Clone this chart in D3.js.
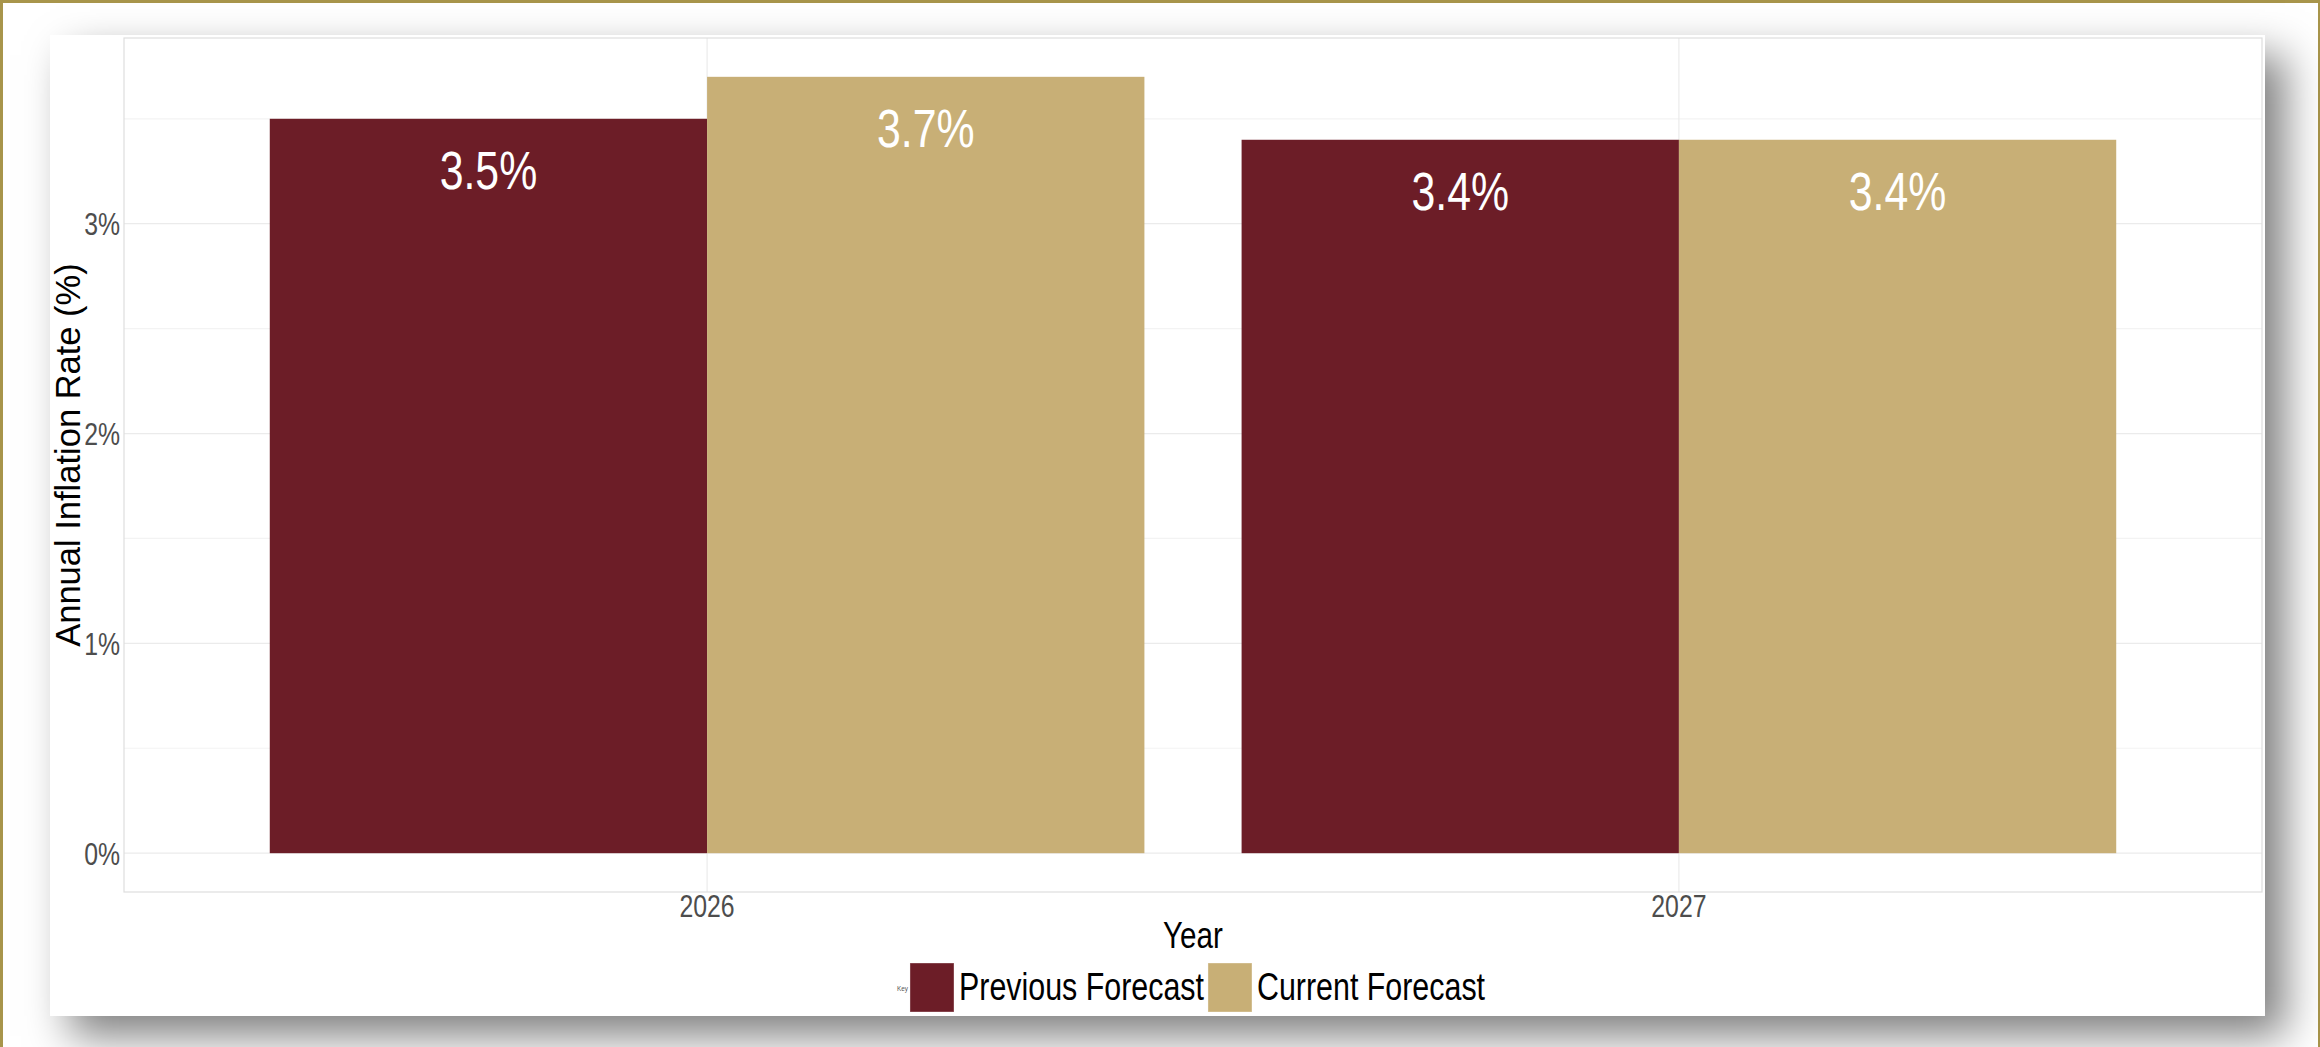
<!DOCTYPE html>
<html>
<head>
<meta charset="utf-8">
<script src="https://cdn.jsdelivr.net/npm/d3@7"></script>
<style>
  html, body { margin: 0; padding: 0; background: #ffffff; }
  body { width: 2320px; height: 1047px; overflow: hidden; position: relative; }
  #frame {
    position: absolute; left: 0; top: 0; width: 2320px; height: 1100px;
    box-sizing: border-box; border-style: solid; border-color: #a8954b;
    border-width: 3px 2px 0 3px;
  }
  #card {
    position: absolute; left: 50px; top: 35px; width: 2215px; height: 981px;
    background: #ffffff; box-shadow: 20px 20px 40px rgba(0,0,0,0.5);
  }
  #chart { position: absolute; left: 0; top: 0; }
  text { font-family: "Liberation Sans", Arial, sans-serif; }
</style>
</head>
<body>
<div id="frame"></div>
<div id="card"></div>
<svg id="chart" width="2320" height="1047"></svg>
<script>
// Annual inflation forecasts by year
const years = ["2026", "2027"];
const seriesNames = ["Previous Forecast", "Current Forecast"];
const previousForecast = [3.5, 3.4];
const currentForecast = [3.7, 3.4];
const seriesColors = ["#6c1d27", "#c8af76"];
const yMajorTicks = [0, 1, 2, 3];
const yMinorTicks = [0.5, 1.5, 2.5, 3.5];
const xTitle = "Year";
const yTitle = "Annual Inflation Rate (%)";
const legendTitle = "Key";

const rows = years.map((y, i) => ({
  year: y,
  values: [previousForecast[i], currentForecast[i]]
}));

const panel = { left: 124, right: 2262, top: 38, bottom: 892 };
const squeeze = 0.8; // glyph width factor used for horizontal labels

const svg = d3.select("#chart");

// scales (5% expansion on the value axis, 0.6-unit expansion on the discrete axis)
const maxVal = d3.max(rows, r => d3.max(r.values));
const pad = maxVal * 0.05;
const y = d3.scaleLinear().domain([-pad, maxVal + pad]).range([panel.bottom, panel.top]);
const x = d3.scaleBand().domain(years).range([panel.left, panel.right])
  .paddingInner(0.1).paddingOuter(0.15);
const xSub = d3.scaleBand().domain(seriesNames).range([0, x.bandwidth()]).padding(0);
const color = d3.scaleOrdinal().domain(seriesNames).range(seriesColors);

// grid
const grid = svg.append("g");
grid.selectAll("line.minor").data(yMinorTicks).join("line")
  .attr("x1", panel.left).attr("x2", panel.right)
  .attr("y1", d => y(d)).attr("y2", d => y(d))
  .attr("stroke", "#f3f3f3").attr("stroke-width", 1.2);
grid.selectAll("line.major").data(yMajorTicks).join("line")
  .attr("x1", panel.left).attr("x2", panel.right)
  .attr("y1", d => y(d)).attr("y2", d => y(d))
  .attr("stroke", "#ebebeb").attr("stroke-width", 1.2);
grid.selectAll("line.vmajor").data(years).join("line")
  .attr("x1", d => x(d) + x.bandwidth() / 2).attr("x2", d => x(d) + x.bandwidth() / 2)
  .attr("y1", panel.top).attr("y2", panel.bottom)
  .attr("stroke", "#ebebeb").attr("stroke-width", 1.2);

// bars
const groups = svg.append("g").selectAll("g").data(rows).join("g")
  .attr("transform", d => `translate(${x(d.year)},0)`);
groups.selectAll("rect").data(d => d.values.map((v, k) => ({ name: seriesNames[k], v })))
  .join("rect")
  .attr("x", d => xSub(d.name))
  .attr("width", xSub.bandwidth())
  .attr("y", d => y(d.v))
  .attr("height", d => y(0) - y(d.v))
  .attr("fill", d => color(d.name));

// value labels inside bars
groups.selectAll("text").data(d => d.values.map((v, k) => ({ name: seriesNames[k], v })))
  .join("text")
  .attr("transform", d => `translate(${xSub(d.name) + xSub.bandwidth() / 2},${y(d.v) + 70}) scale(${squeeze},1)`)
  .attr("text-anchor", "middle")
  .attr("font-size", 53.5)
  .attr("fill", "#ffffff")
  .text(d => d.v.toFixed(1) + "%");

// panel border
svg.append("rect")
  .attr("x", panel.left).attr("y", panel.top)
  .attr("width", panel.right - panel.left).attr("height", panel.bottom - panel.top)
  .attr("fill", "none").attr("stroke", "#dedede").attr("stroke-width", 1.2);

// y axis tick labels
const yAxis = d3.axisLeft(y).tickValues(yMajorTicks).tickSize(0).tickFormat(d => d + "%");
const gy = svg.append("g").attr("transform", `translate(${panel.left - 4},0)`).call(yAxis);
gy.select(".domain").remove();
gy.selectAll(".tick text")
  .attr("x", 0).attr("dy", null)
  .attr("transform", `translate(0,11) scale(${squeeze},1)`)
  .attr("font-size", 31).attr("fill", "#4d4d4d")
  .attr("font-family", "Liberation Sans, Arial, sans-serif");

// x axis tick labels
const xAxis = d3.axisBottom(x).tickSize(0);
const gx = svg.append("g").attr("transform", `translate(0,${panel.bottom})`).call(xAxis);
gx.select(".domain").remove();
gx.selectAll(".tick text")
  .attr("y", 0).attr("dy", null)
  .attr("transform", `translate(0,25) scale(${squeeze},1)`)
  .attr("font-size", 31).attr("fill", "#4d4d4d")
  .attr("font-family", "Liberation Sans, Arial, sans-serif");

// axis titles
const cx = (panel.left + panel.right) / 2;
svg.append("text")
  .attr("transform", `translate(${cx},948) scale(${squeeze},1)`)
  .attr("text-anchor", "middle").attr("font-size", 37).attr("fill", "#000")
  .text(xTitle);
svg.append("text")
  .attr("transform", `translate(80,${(panel.top + panel.bottom) / 2 - 10}) rotate(-90)`)
  .attr("text-anchor", "middle").attr("font-size", 34.5).attr("fill", "#000")
  .text(yTitle);

// legend
const legend = svg.append("g");
const keyH = 49, keyW = 44, legFont = 38;
const items = [];
let cursor = 0;
const keyLabel = legend.append("text")
  .attr("font-size", 8).attr("fill", "#555").text(legendTitle);
const keyLabelW = keyLabel.node().getComputedTextLength() * squeeze;
items.push({ kind: "title", x: cursor }); cursor += keyLabelW + 2;
seriesNames.forEach((name, i) => {
  items.push({ kind: "swatch", name, x: cursor });
  cursor += keyW + 5;
  const t = legend.append("text").attr("font-size", legFont).attr("fill", "#000").text(name);
  const w = t.node().getComputedTextLength() * squeeze;
  items.push({ kind: "label", node: t, x: cursor });
  cursor += w + 4;
});
const legStart = cx - cursor / 2;
const legTop = 963;
keyLabel.attr("transform", `translate(${legStart},${legTop + keyH / 2 + 3}) scale(${squeeze},1)`);
items.forEach(it => {
  if (it.kind === "swatch") {
    legend.append("rect")
      .attr("x", legStart + it.x).attr("y", legTop)
      .attr("width", keyW).attr("height", keyH)
      .attr("fill", color(it.name))
      .attr("stroke", "#ffffff").attr("stroke-opacity", 0.35).attr("stroke-width", 1);
  } else if (it.kind === "label") {
    it.node.attr("transform", `translate(${legStart + it.x},${legTop + 37}) scale(${squeeze},1)`);
  }
});
</script>
</body>
</html>
